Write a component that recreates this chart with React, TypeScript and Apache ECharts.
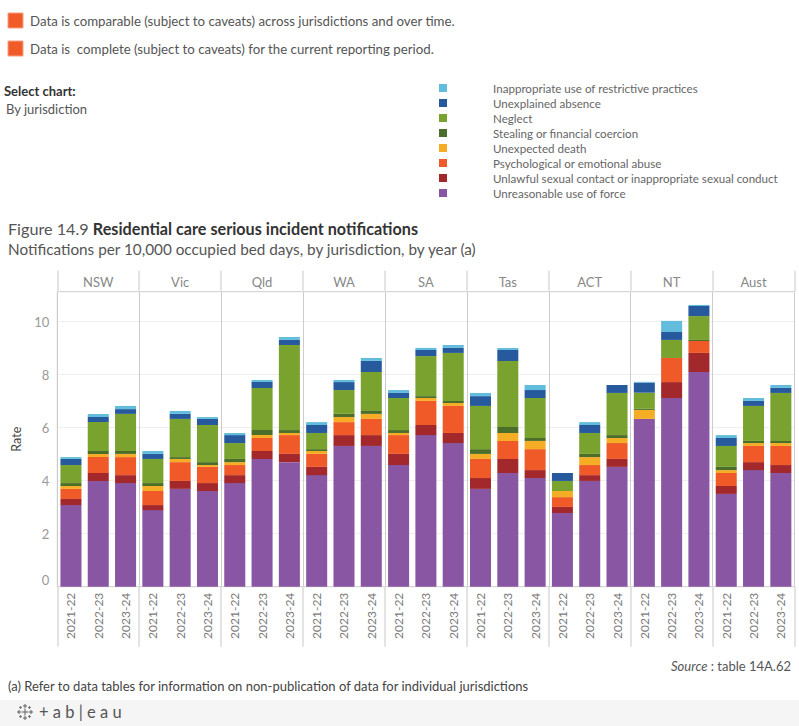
import React, { useEffect, useRef } from "react";
import * as echarts from "echarts";

const jurisdictions = ["NSW", "Vic", "Qld", "WA", "SA", "Tas", "ACT", "NT", "Aust"];
const years = ["2021-22", "2022-23", "2023-24"];

const seriesNames = [
  "Unreasonable use of force",
  "Unlawful sexual contact or inappropriate sexual conduct",
  "Psychological or emotional abuse",
  "Unexpected death",
  "Stealing or financial coercion",
  "Neglect",
  "Unexplained absence",
  "Inappropriate use of restrictive practices",
];
const seriesColors = ["#8856a2", "#a3282b", "#f05a28", "#f5ad26", "#4b6e2b", "#7aa22f", "#275a9d", "#62bcdc"];

// Values per jurisdiction x year (NSW 21-22, 22-23, 23-24, Vic ..., Aust)
const force = [3.08, 3.99, 3.91, 2.89, 3.69, 3.61, 3.91, 4.82, 4.70, 4.21, 5.31, 5.31, 4.59, 5.72, 5.42, 3.69, 4.29, 4.10, 2.78, 3.99, 4.52, 6.33, 7.12, 8.10, 3.50, 4.40, 4.29];
const sexual = [0.23, 0.30, 0.30, 0.19, 0.30, 0.30, 0.30, 0.30, 0.31, 0.31, 0.41, 0.41, 0.42, 0.38, 0.38, 0.41, 0.53, 0.30, 0.23, 0.22, 0.30, 0, 0.60, 0.72, 0.30, 0.30, 0.30];
const psych = [0.38, 0.60, 0.68, 0.53, 0.71, 0.61, 0.38, 0.49, 0.71, 0.49, 0.49, 0.61, 0.71, 0.91, 1.02, 0.72, 0.68, 0.79, 0.37, 0.38, 0.60, 0, 0.91, 0.45, 0.49, 0.61, 0.72];
const death = [0.11, 0.12, 0.12, 0.19, 0.12, 0.07, 0.11, 0.11, 0.08, 0.11, 0.19, 0.19, 0.08, 0.11, 0.11, 0.19, 0.30, 0.31, 0.23, 0.30, 0.19, 0.34, 0, 0, 0.11, 0.11, 0.11];
const stealing = [0.11, 0.11, 0.11, 0.11, 0.07, 0.11, 0.12, 0.19, 0.11, 0.07, 0.12, 0.11, 0.11, 0.07, 0.08, 0.18, 0.23, 0.11, 0, 0.12, 0.11, 0.04, 0, 0.04, 0.12, 0.08, 0.08];
const neglect = [0.68, 1.09, 1.40, 0.91, 1.44, 1.40, 0.60, 1.59, 3.21, 0.61, 0.90, 1.47, 1.21, 1.51, 1.81, 1.63, 2.49, 1.51, 0.38, 0.79, 1.59, 0.61, 0.68, 0.90, 0.79, 1.32, 1.81];
const absence = [0.23, 0.19, 0.18, 0.19, 0.19, 0.23, 0.30, 0.22, 0.19, 0.30, 0.30, 0.42, 0.19, 0.23, 0.19, 0.37, 0.41, 0.30, 0.30, 0.30, 0.30, 0.38, 0.30, 0.38, 0.30, 0.19, 0.19];
const restrictive = [0.07, 0.12, 0.12, 0.11, 0.11, 0.07, 0.08, 0.08, 0.11, 0.11, 0.08, 0.11, 0.11, 0.08, 0.11, 0.12, 0.08, 0.19, 0, 0.11, 0, 0.03, 0.42, 0.04, 0.11, 0.11, 0.11];

const seriesValues = [force, sexual, psych, death, stealing, neglect, absence, restrictive];

const yTicks = [0, 2, 4, 6, 8, 10];

const FONT = "Lato, 'Noto Sans', sans-serif";

function logoLines(cx: number, cy: number) {
  const crosses = [
    [0, 0, 3.5],
    [0, -6, 2],
    [0, 6, 2],
    [-6, 0, 2],
    [6, 0, 2],
    [-4.5, -4.5, 1.3],
    [4.5, -4.5, 1.3],
    [-4.5, 4.5, 1.3],
    [4.5, 4.5, 1.3],
  ];
  const els: any[] = [];
  crosses.forEach(([x, y, a]) => {
    els.push({ type: "line", shape: { x1: cx + x - a, y1: cy + y, x2: cx + x + a, y2: cy + y }, style: { stroke: "#6b6b6b", lineWidth: 1.1 } });
    els.push({ type: "line", shape: { x1: cx + x, y1: cy + y - a, x2: cx + x, y2: cy + y + a }, style: { stroke: "#6b6b6b", lineWidth: 1.1 } });
  });
  return els;
}

export default function App() {
  const ref = useRef<HTMLDivElement>(null);
  useEffect(() => {
    const chart = echarts.init(ref.current!, undefined, { renderer: "svg" });
    const categories: string[] = [];
    jurisdictions.forEach(() => years.forEach((y) => categories.push(y)));

    const option: any = {
      animation: false,
      backgroundColor: "#ffffff",
      textStyle: { fontFamily: FONT },
      title: [
        {
          left: 8,
          top: 220,
          padding: 0,
          text: "{a|Figure 14.9 }{b|Residential care serious incident notifications}",
          textStyle: {
            rich: {
              a: { fontSize: 16.2, color: "#555555", fontWeight: "normal", fontFamily: FONT },
              b: { fontSize: 16.2, color: "#333333", fontWeight: "bold", fontFamily: FONT },
            },
          },
        },
        {
          left: 8,
          top: 241,
          padding: 0,
          text: "Notifications per 10,000 occupied bed days, by jurisdiction, by year (a)",
          textStyle: { fontSize: 15.3, color: "#555555", fontWeight: "normal", fontFamily: FONT },
        },
      ],
      legend: {
        orient: "vertical",
        left: 439,
        top: 80.5,
        padding: 0,
        icon: "rect",
        itemWidth: 8,
        itemHeight: 8,
        itemGap: 0,
        selectedMode: false,
        data: seriesNames.slice().reverse(),
        textStyle: { fontSize: 11.6, color: "#666666", lineHeight: 15, padding: [0, 0, 0, 41], fontFamily: FONT },
      },
      grid: {
        left: 57.3,
        right: 4.5,
        top: 291.7,
        bottom: 139.3,
        show: true,
        borderColor: "#cccccc",
        borderWidth: 1,
        backgroundColor: "transparent",
      },
      xAxis: [
        {
          type: "category",
          data: categories,
          position: "bottom",
          axisLine: { show: true, lineStyle: { color: "#d6d6d6", width: 1 } },
          axisTick: {
            show: true,
            length: 60,
            interval: (i: number) => i % 3 === 0,
            lineStyle: { color: "#e3e3e3", width: 2 },
          },
          axisLabel: { interval: 0, rotate: 90, margin: 6, fontSize: 12, color: "#7a7a7a", fontFamily: FONT },
          splitLine: { show: false },
        },
        {
          type: "category",
          data: jurisdictions,
          position: "top",
          axisLine: { show: true, lineStyle: { color: "#d6d6d6", width: 1 } },
          axisTick: { show: true, length: 21, interval: 0, lineStyle: { color: "#e3e3e3", width: 2 } },
          axisLabel: { interval: 0, margin: 3, fontSize: 13, color: "#888888", fontFamily: FONT },
          splitLine: { show: true, interval: 0, lineStyle: { color: "#cccccc", width: 1 } },
        },
      ],
      yAxis: {
        type: "value",
        min: 0,
        max: 11.13,
        interval: 2,
        name: "Rate",
        nameLocation: "middle",
        nameRotate: 90,
        nameGap: 30,
        nameTextStyle: { fontSize: 12.5, color: "#444444", fontFamily: FONT },
        axisLine: { show: false },
        axisTick: { show: false },
        axisLabel: {
          margin: 8,
          fontSize: 13,
          color: "#999999",
          showMaxLabel: false,
          verticalAlignMinLabel: "bottom",
          fontFamily: FONT,
          formatter: (v: number) => (yTicks.indexOf(v) >= 0 ? String(v) : ""),
        },
        splitLine: { show: true, lineStyle: { color: "#efefef", width: 1 } },
      },
      series: seriesNames.map((name, k) => ({
        name,
        type: "bar",
        stack: "total",
        xAxisIndex: 0,
        barCategoryGap: "23%",
        itemStyle: { color: seriesColors[k] },
        data: seriesValues[k],
      })),
      graphic: [
        { type: "rect", shape: { x: 8, y: 13, width: 15, height: 15 }, style: { fill: "#f15a29", stroke: "#f7a07e", lineWidth: 1 } },
        { type: "text", x: 30, y: 21, style: { text: "Data is comparable (subject to caveats) across jurisdictions and over time.", fontSize: 13.25, fill: "#555555", fontFamily: FONT, verticalAlign: "middle" } },
        { type: "rect", shape: { x: 8, y: 41, width: 15, height: 15 }, style: { fill: "#f15a29", stroke: "#f7a07e", lineWidth: 1 } },
        { type: "text", x: 30, y: 49, style: { text: "Data is  complete (subject to caveats) for the current reporting period.", fontSize: 13.25, fill: "#555555", fontFamily: FONT, verticalAlign: "middle" } },
        { type: "text", x: 4, y: 91, style: { text: "Select chart:", fontSize: 13, fontWeight: "bold", fill: "#333333", fontFamily: FONT, verticalAlign: "middle" } },
        { type: "text", x: 6, y: 109, style: { text: "By jurisdiction", fontSize: 13, fill: "#555555", fontFamily: FONT, verticalAlign: "middle" } },
        {
          type: "text",
          x: 791,
          y: 666,
          style: {
            text: "{i|Source} : table 14A.62",
            fontSize: 13,
            fill: "#555555",
            fontFamily: FONT,
            align: "right",
            verticalAlign: "middle",
            rich: { i: { fontStyle: "italic", fontSize: 13, fill: "#555555", fontFamily: FONT } },
          },
        },
        { type: "text", x: 8, y: 686, style: { text: "(a) Refer to data tables for information on non-publication of data for individual jurisdictions", fontSize: 13, fill: "#444444", fontFamily: FONT, verticalAlign: "middle" } },
        { type: "rect", shape: { x: 0, y: 700, width: 799, height: 26 }, style: { fill: "#f5f5f5" } },
        ...logoLines(25, 712),
        { type: "text", x: 39, y: 712, style: { text: "+ a b | e a u", fontSize: 16.5, fill: "#555555", fontFamily: FONT, verticalAlign: "middle" } },
      ],
    };
    chart.setOption(option);
    return () => chart.dispose();
  }, []);
  return <div ref={ref} style={{ position: "fixed", left: 0, top: 0, width: 799, height: 726, background: "#fff" }} />;
}
